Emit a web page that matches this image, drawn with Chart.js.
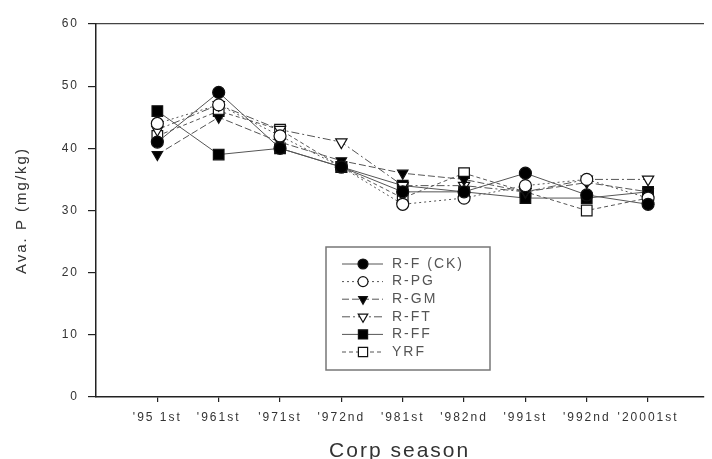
<!DOCTYPE html>
<html>
<head>
<meta charset="utf-8">
<script src="https://cdn.jsdelivr.net/npm/chart.js@4"></script>
<style>
html,body{margin:0;padding:0;background:#fff;}
#wrap{width:712px;height:459px;}
</style>
</head>
<body>
<div id="wrap"><canvas id="c" width="712" height="459"></canvas></div>
<script>
const xLabels = ["'95 1st", "'961st", "'971st", "'972nd", "'981st", "'982nd", "'991st", "'992nd", "'20001st"];
const seriesNames = ["R-F (CK)", "R-PG", "R-GM", "R-FT", "R-FF", "YRF"];
const rfCK = [41, 49, 40, 37, 33, 33, 36, 32.5, 31];
const rPG  = [44, 47, 42, 37, 31, 32, 34, 35, 32];
const rGM  = [39, 45, 41, 38, 36, 35, 33, 34.5, 33];
const rFT  = [43, 47, 43, 41, 34, 34, 33, 35, 35];
const rFF  = [46, 39, 40, 37, 34, 33, 32, 32, 33];
const yRF  = [42, 46, 43, 37, 32, 36, 33, 30, 32];
const yTicks = [0, 10, 20, 30, 40, 50, 60];

const seriesValues = [rfCK, rPG, rGM, rFT, rFF, yRF];
const styles = [
  {pointStyle:'circle', rot:0, fill:'#000', dash:[], r:6},
  {pointStyle:'circle', rot:0, fill:'#fff', dash:[2,3], r:6},
  {pointStyle:'triangle', rot:180, fill:'#000', dash:[7,3], r:6},
  {pointStyle:'triangle', rot:180, fill:'#fff', dash:[8,3,2,3], r:6.5},
  {pointStyle:'rect', rot:0, fill:'#000', dash:[], r:7.5},
  {pointStyle:'rect', rot:0, fill:'#fff', dash:[4,3], r:7.5}
];
const FONT = "'Liberation Sans', Arial, sans-serif";

const datasets = seriesNames.map((name, i) => ({
  label: name,
  data: seriesValues[i].map((v, k) => ({x: k, y: v})),
  borderColor: '#555',
  borderWidth: 1,
  borderDash: styles[i].dash,
  pointStyle: styles[i].pointStyle,
  pointRotation: styles[i].rot,
  pointRadius: styles[i].r,
  pointBackgroundColor: styles[i].fill,
  pointBorderColor: '#111',
  pointBorderWidth: 1.2,
  fill: false,
  tension: 0
}));

const spacingPlugin = {
  id: 'wideText',
  beforeDraw(chart) {
    if ('letterSpacing' in chart.ctx) chart.ctx.letterSpacing = '2px';
  }
};

const legendPlugin = {
  id: 'boxLegend',
  afterDraw(chart) {
    const ctx = chart.ctx;
    ctx.save();
    const L = 326, T = 247, R = 490, B = 370;
    ctx.fillStyle = '#fff';
    ctx.fillRect(L, T, R - L, B - T);
    ctx.strokeStyle = '#777';
    ctx.lineWidth = 1.5;
    ctx.setLineDash([]);
    ctx.strokeRect(L, T, R - L, B - T);
    chart.data.datasets.forEach((ds, i) => {
      const y = 264 + i * 17.6;
      ctx.strokeStyle = '#555';
      ctx.lineWidth = 1;
      ctx.setLineDash(ds.borderDash || []);
      ctx.beginPath();
      ctx.moveTo(342, y);
      ctx.lineTo(383, y);
      ctx.stroke();
      ctx.setLineDash([]);
      ctx.fillStyle = ds.pointBackgroundColor;
      ctx.strokeStyle = '#111';
      ctx.lineWidth = 1.2;
      Chart.helpers.drawPoint(ctx, {pointStyle: ds.pointStyle, rotation: ds.pointRotation, radius: ds.pointRadius - 1, borderWidth: 1.2}, 363, y);
      ctx.fillStyle = '#555';
      ctx.font = '14px ' + FONT;
      ctx.textAlign = 'left';
      ctx.textBaseline = 'middle';
      ctx.fillText(ds.label, 392, y);
    });
    ctx.restore();
  }
};

new Chart(document.getElementById('c'), {
  type: 'line',
  data: {datasets},
  options: {
    responsive: false,
    animation: false,
    layout: {padding: 0},
    plugins: {legend: {display: false}, tooltip: {enabled: false}},
    scales: {
      x: {
        type: 'linear',
        position: 'bottom',
        min: -1,
        max: 8.9,
        afterBuildTicks: s => { s.ticks = xLabels.map((_, k) => ({value: k})); },
        afterFit: s => { s.height = 62; },
        ticks: {
          autoSkip: false, maxRotation: 0, padding: 8,
          color: '#333', font: {family: FONT, size: 12},
          callback: v => xLabels[v]
        },
        grid: {drawOnChartArea: false, drawTicks: true, tickLength: 5, color: '#222', lineWidth: 1.2},
        border: {display: true, color: '#222', width: 1.5},
        title: {display: true, text: 'Corp season', color: '#333', font: {family: FONT, size: 21}, padding: {top: 0, bottom: -5}}
      },
      xTop: {
        type: 'linear',
        position: 'top',
        min: -1,
        max: 8.9,
        afterFit: s => { s.height = 24; },
        ticks: {display: false},
        grid: {display: false, drawOnChartArea: false, drawTicks: false},
        border: {display: true, color: '#444', width: 1.2}
      },
      y: {
        type: 'linear',
        min: 0,
        max: 60,
        afterBuildTicks: s => { s.ticks = yTicks.map(v => ({value: v})); },
        afterFit: s => { s.width = 96; },
        ticks: {padding: 9, color: '#333', font: {family: FONT, size: 12}},
        grid: {drawOnChartArea: false, drawTicks: true, tickLength: 8, color: '#222', lineWidth: 1.2},
        border: {display: true, color: '#222', width: 1.5},
        title: {display: true, text: 'Ava. P (mg/kg)', color: '#333', font: {family: FONT, size: 15}, padding: {top: 13, bottom: 0}}
      }
    }
  },
  plugins: [spacingPlugin, legendPlugin]
});
</script>
</body>
</html>
